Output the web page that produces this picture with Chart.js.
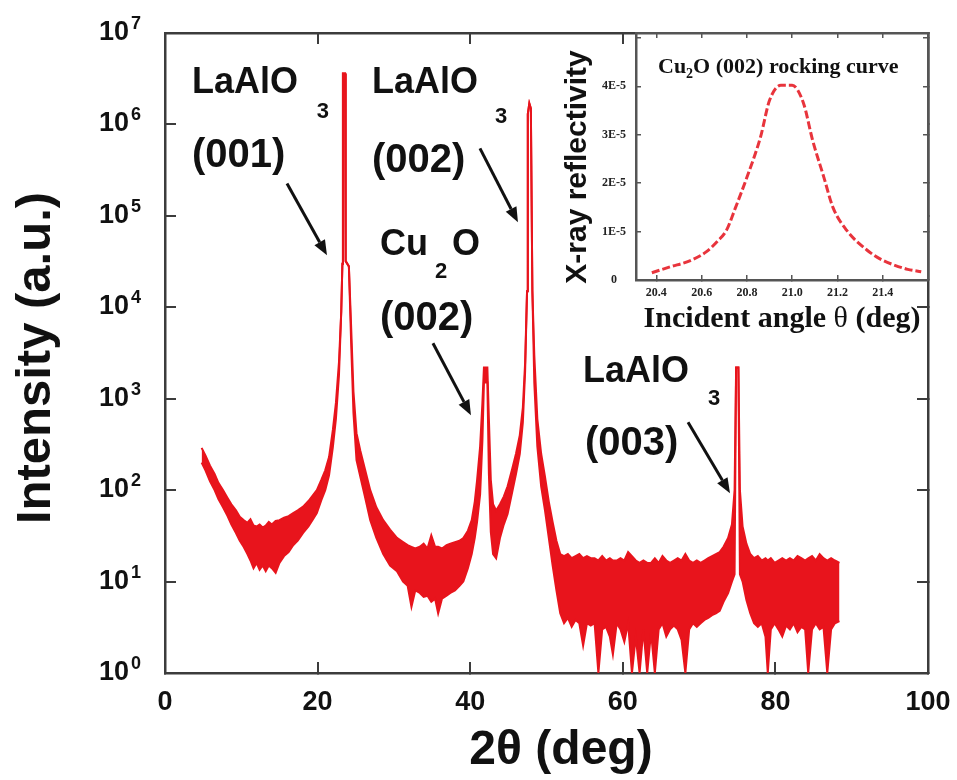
<!DOCTYPE html>
<html><head><meta charset="utf-8">
<script src="https://cdn.jsdelivr.net/npm/chart.js@4.4.1/dist/chart.umd.min.js"></script>
<style>
html,body{margin:0;padding:0;background:#fff;}
#wrap{position:relative;width:957px;height:780px;overflow:hidden;}
#main{position:absolute;left:0;top:0;}
#inset{position:absolute;left:550px;top:25px;}
</style></head><body>
<div id="wrap"><canvas id="main" width="957" height="780"></canvas><canvas id="inset" width="390" height="315"></canvas></div>
<script>
// ---------------- main XRD pattern (2theta scan) ----------------
const TWO_THETA = [4.8,5.3,5.9,6.5,7.0,7.6,8.2,8.7,9.3,9.8,10.3,10.8,11.2,11.6,12.0,12.4,12.8,13.2,13.6,14.0,14.5,15.0,15.6,16.2,16.8,17.4,18.1,18.8,19.4,19.9,20.5,21.0,21.5,22.0,22.4,22.8,23.1,23.25,23.32,23.6,23.68,24.1,24.4,24.7,25.1,25.6,26.2,26.9,27.7,28.6,29.5,30.4,31.2,31.8,32.3,32.8,33.4,33.9,34.4,34.9,35.4,35.8,36.3,36.9,37.4,38.0,38.6,39.1,39.7,40.2,40.6,40.9,41.3,41.6,41.8,42.25,42.45,42.7,43.0,43.4,43.9,44.4,44.9,45.5,46.0,46.5,46.9,47.2,47.45,47.55,47.75,47.95,48.15,48.4,48.8,49.3,49.8,50.3,50.8,51.3,51.8,52.3,52.8,53.3,53.8,54.3,54.8,55.3,55.8,56.3,56.8,57.3,57.8,58.3,58.7,59.2,59.7,60.2,60.7,61.2,61.7,62.2,62.7,63.2,63.7,64.2,64.7,65.2,65.7,66.2,66.7,67.2,67.7,68.2,68.7,69.2,69.7,70.2,70.7,71.2,71.7,72.2,72.7,73.2,73.8,74.3,74.65,74.85,75.15,75.35,75.7,76.2,76.7,77.2,77.7,78.2,78.7,79.0,79.4,79.9,80.4,80.9,81.4,81.9,82.4,82.9,83.4,83.9,84.3,84.8,85.3,85.8,86.3,86.8,87.3,87.8,88.4];
// upper edge of the noisy trace
const I_UPPER = [290,240,185,150,120,100,82,70,60,51,47,44,48,41,40,42,39,41,45,42,46,47,50,52,56,60,66,76,88,100,130,165,230,455,900,2500,9000,30000,3600000,3600000,32000,28000,6000,1200,420,270,170,100,65,47,37,30,27,25,24,23,24,26,23,32,24,24,23,25,26,27,28,30,36,47,75,128,300,900,2200,2200,600,130,70,60,70,85,110,170,250,400,800,2500,15000,1300000,1700000,1500000,15000,3000,600,250,140,75,45,28,20,19,20,18,19,20,18,19,18,18,17,19,17,18,17,17,18,17,21,19,17,16,17,16,16,18,16,19,17,16,17,18,17,20,17,16,17,16,17,18,19,20,21,24,30,42,100,2200,2200,100,40,26,20,18,19,17,18,17,18,16,17,18,17,18,17,19,18,17,18,19,17,20,18,17,18,17,16];
// lower edge of the noisy trace
const I_LOWER = [200,165,125,100,80,65,52,42,34,28,24,20,17,14,16,13.5,15,13,15,14,12.5,16,19,21,25,28,34,40,48,56,78,100,145,295,600,1800,9000,30000,3600000,3600000,32000,28000,4000,700,213,140,85,47,30,20,15,13,10,9,5.3,8,7.5,6.8,7,6,6.5,4.5,6.5,7,7.5,8,9,10,14,20,30,45,90,350,1500,1500,150,35,20,18,30,42,55,95,150,250,550,2000,15000,1300000,1700000,1500000,15000,1500,300,110,60,30,15,8,4.5,3.5,4,3.2,3.8,3.5,2,3.5,3.3,3.5,1,3,3.2,2.5,1.6,3.5,3,2.2,3.5,1,2.5,1,3,1,2.8,1,3,3.5,2.5,3,3.3,3,2.3,1,3,3.5,3.2,3.5,3.8,4,4.3,4.5,4.8,6,7.5,10,12,2200,2200,12,10,6.3,4.5,3.5,3.2,3.5,2.5,1,3,3.5,3,2.5,3.3,3,3.5,2.8,3.2,3,1,3,3.5,3,3.2,1,3,3.5,3.7];
const X_TICKS = [0,20,40,60,80,100];
const Y_TICKS = [1,10,100,1000,10000,100000,1000000,10000000];
const Y_TICK_BASE = '10';
const Y_TICK_EXP = ['0','1','2','3','4','5','6','7'];
const PEAK_LABELS = [
  {name:'LaAlO', sub:'3', hkl:'(001)'},
  {name:'LaAlO', sub:'3', hkl:'(002)'},
  {name:'Cu', sub:'2', tail:'O', hkl:'(002)'},
  {name:'LaAlO', sub:'3', hkl:'(003)'}
];
const X_TITLE = '2θ (deg)';
const Y_TITLE = 'Intensity (a.u.)';

// ---------------- inset: rocking curve ----------------
const INSET_THETA = [20.38,20.46,20.55,20.62,20.67,20.71,20.75,20.80,20.86,20.90,20.95,21.00,21.05,21.09,21.14,21.18,21.24,21.33,21.39,21.45,21.51,21.57];
const INSET_REFL = [0.15e-5,0.27e-5,0.40e-5,0.58e-5,0.80e-5,1.03e-5,1.50e-5,2.12e-5,2.95e-5,3.71e-5,4.02e-5,4.02e-5,3.65e-5,2.89e-5,2.12e-5,1.50e-5,1.03e-5,0.62e-5,0.43e-5,0.31e-5,0.22e-5,0.17e-5];
const INSET_X_TICKS = [20.4,20.6,20.8,21.0,21.2,21.4];
const INSET_Y_TICKS = [0,1e-5,2e-5,3e-5,4e-5,5e-5];
const INSET_Y_LABELS = ['0','1E-5','2E-5','3E-5','4E-5',''];
const INSET_TITLE = ['Cu','2','O (002) rocking curve'];
const INSET_X_TITLE = ['Incident angle ','θ',' (deg)'];
const INSET_Y_TITLE = 'X-ray reflectivity';

const RED = '#e8141c';
const AXIS = '#3c3c3c';
const SANS = '"Liberation Sans", Arial, Helvetica, sans-serif';
const SERIF = '"Liberation Serif", "Times New Roman", serif';

function arrow(ctx, x1, y1, x2, y2) {
  const ang = Math.atan2(y2 - y1, x2 - x1);
  const hl = 15, hw = 6;
  const bx = x2 - hl * Math.cos(ang), by = y2 - hl * Math.sin(ang);
  ctx.beginPath(); ctx.moveTo(x1, y1); ctx.lineTo(bx, by);
  ctx.lineWidth = 3; ctx.strokeStyle = '#111'; ctx.stroke();
  ctx.beginPath(); ctx.moveTo(x2, y2);
  ctx.lineTo(bx + hw * Math.sin(ang), by - hw * Math.cos(ang));
  ctx.lineTo(bx - hw * Math.sin(ang), by + hw * Math.cos(ang));
  ctx.closePath(); ctx.fillStyle = '#111'; ctx.fill();
}

const mainDecor = {
  id: 'mainDecor',
  afterDraw(chart) {
    const ctx = chart.ctx, xs = chart.scales.x, ys = chart.scales.y, ca = chart.chartArea;
    const P = (xv, lv) => [xs.getPixelForValue(xv), ys.getPixelForValue(Math.pow(10, lv))];
    ctx.save();
    ctx.fillStyle = '#111';
    // y tick labels 10^n
    Y_TICKS.forEach((v, i) => {
      const py = ys.getPixelForValue(v);
      ctx.font = 'bold 27px ' + SANS; ctx.textAlign = 'right'; ctx.textBaseline = 'alphabetic';
      ctx.fillText(Y_TICK_BASE, ca.left - 36, py + 7);
      ctx.font = 'bold 18px ' + SANS; ctx.textAlign = 'left';
      ctx.fillText(Y_TICK_EXP[i], ca.left - 34, py - 4);
    });
    // axis titles
    ctx.font = 'bold 48px ' + SANS; ctx.textAlign = 'center'; ctx.textBaseline = 'middle';
    ctx.fillText(X_TITLE, 561, ca.bottom + 78);
    ctx.font = 'bold 49px ' + SANS;
    ctx.save(); ctx.translate(36, 358); ctx.rotate(-Math.PI / 2);
    ctx.fillText(Y_TITLE, 0, 0); ctx.restore();
    // peak labels
    ctx.textAlign = 'left'; ctx.textBaseline = 'alphabetic';
    const big = 'bold 36px ' + SANS, sub = 'bold 22px ' + SANS, hkl = 'bold 40px ' + SANS;
    const put = (t, f, xv, lv) => { const p = P(xv, lv); ctx.font = f; ctx.fillText(t, p[0], p[1]); };
    // LaAlO3 (001)
    put(PEAK_LABELS[0].name, big, 3.54, 6.339);
    put(PEAK_LABELS[0].sub, sub, 19.9, 6.066);
    put(PEAK_LABELS[0].hkl, hkl, 3.54, 5.53);
    // LaAlO3 (002)
    put(PEAK_LABELS[1].name, big, 27.13, 6.339);
    put(PEAK_LABELS[1].sub, sub, 43.25, 6.011);
    put(PEAK_LABELS[1].hkl, hkl, 27.13, 5.475);
    // Cu2O (002)
    put(PEAK_LABELS[2].name, big, 28.18, 4.568);
    put(PEAK_LABELS[2].sub, sub, 35.39, 4.317);
    put(PEAK_LABELS[2].tail, big, 37.61, 4.568);
    put(PEAK_LABELS[2].hkl, hkl, 28.18, 3.749);
    // LaAlO3 (003)
    put(PEAK_LABELS[3].name, big, 54.78, 3.18);
    put(PEAK_LABELS[3].sub, sub, 71.17, 2.929);
    put(PEAK_LABELS[3].hkl, hkl, 55.05, 2.383);
    // arrows
    const arr = (a, b, c, d) => { const p = P(a, b), q = P(c, d); arrow(ctx, p[0], p[1], q[0], q[1]); };
    arr(15.99, 5.355, 21.23, 4.568);
    arr(41.28, 5.738, 46.26, 4.929);
    arr(35.12, 3.607, 40.10, 2.82);
    arr(68.55, 2.743, 74.05, 1.967);
    ctx.restore();
  }
};

const gridIn = (len) => ({ display: true, drawOnChartArea: false, drawTicks: true, tickLength: -len, color: AXIS, lineWidth: 2 });
const border = { display: true, color: AXIS, width: 2.5 };
const fitH = h => s => { s.height = h; s.paddingLeft = 0; s.paddingRight = 0; };
const fitW = w => s => { s.width = w; s.paddingTop = 0; s.paddingBottom = 0; };

new Chart(document.getElementById('main'), {
  type: 'line',
  data: {
    datasets: [
      { data: TWO_THETA.map((x, i) => ({ x, y: I_UPPER[i] })), borderColor: RED, borderWidth: 2, pointRadius: 0, fill: false, tension: 0 },
      { data: TWO_THETA.map((x, i) => ({ x, y: I_LOWER[i] })), borderColor: RED, backgroundColor: RED, borderWidth: 2, pointRadius: 0, fill: '-1', tension: 0 }
    ]
  },
  options: {
    responsive: false, animation: false, events: [],
    layout: { padding: { top: 33, right: 29, left: 0, bottom: 0 } },
    plugins: { legend: { display: false }, tooltip: { enabled: false } },
    scales: {
      x: { type: 'linear', position: 'bottom', min: 0, max: 100,
        afterBuildTicks: s => { s.ticks = X_TICKS.map(v => ({ value: v })); },
        afterFit: fitH(107),
        ticks: { color: '#111', font: { family: SANS, size: 27, weight: 'bold' }, padding: 24, maxRotation: 0 },
        grid: gridIn(11), border },
      x2: { type: 'linear', position: 'top', min: 0, max: 100,
        afterBuildTicks: s => { s.ticks = X_TICKS.map(v => ({ value: v })); },
        afterFit: fitH(0),
        ticks: { display: false }, grid: gridIn(11), border },
      y: { type: 'logarithmic', position: 'left', min: 1, max: 1e7,
        afterBuildTicks: s => { s.ticks = Y_TICKS.map(v => ({ value: v })); },
        afterFit: fitW(165),
        ticks: { display: false }, grid: gridIn(11), border },
      y2: { type: 'logarithmic', position: 'right', min: 1, max: 1e7,
        afterBuildTicks: s => { s.ticks = Y_TICKS.map(v => ({ value: v })); },
        afterFit: fitW(0),
        ticks: { display: false }, grid: gridIn(11), border }
    }
  },
  plugins: [mainDecor]
});

// ---------------- inset chart ----------------
const insetDecor = {
  id: 'insetDecor',
  beforeDraw(chart) {
    const ctx = chart.ctx, ca = chart.chartArea;
    ctx.save(); ctx.fillStyle = '#fff';
    ctx.fillRect(ca.left, ca.top, ca.right - ca.left, ca.bottom - ca.top);
    ctx.restore();
  },
  afterDraw(chart) {
    const ctx = chart.ctx, ca = chart.chartArea;
    ctx.save(); ctx.fillStyle = '#111'; ctx.textBaseline = 'alphabetic'; ctx.textAlign = 'left';
    // title inside
    let x = ca.left + 22; const by = ca.top + 40;
    ctx.font = 'bold 22px ' + SERIF; ctx.fillText(INSET_TITLE[0], x, by); x += ctx.measureText(INSET_TITLE[0]).width;
    ctx.font = 'bold 14px ' + SERIF; ctx.fillText(INSET_TITLE[1], x, by + 5); x += ctx.measureText(INSET_TITLE[1]).width;
    ctx.font = 'bold 22px ' + SERIF; ctx.fillText(INSET_TITLE[2], x, by);
    // x title
    const f = ['bold 30px ' + SERIF, '30px ' + SERIF, 'bold 30px ' + SERIF];
    let w = 0; INSET_X_TITLE.forEach((t, i) => { ctx.font = f[i]; w += ctx.measureText(t).width; });
    x = 232 - w / 2; const ty = 302;
    INSET_X_TITLE.forEach((t, i) => { ctx.font = f[i]; ctx.fillText(t, x, ty); x += ctx.measureText(t).width; });
    // y title
    ctx.font = 'bold 30px ' + SANS; ctx.textAlign = 'center'; ctx.textBaseline = 'middle';
    ctx.save(); ctx.translate(28, 142); ctx.rotate(-Math.PI / 2); ctx.fillText(INSET_Y_TITLE, 0, 0); ctx.restore();
    ctx.restore();
  }
};
const gridInset = { display: true, drawOnChartArea: false, drawTicks: true, tickLength: -5, color: '#555', lineWidth: 1.5 };
const borderInset = { display: true, color: '#555', width: 2.5 };
new Chart(document.getElementById('inset'), {
  type: 'line',
  data: { datasets: [{ data: INSET_THETA.map((x, i) => ({ x, y: INSET_REFL[i] })), borderColor: '#e8343c', borderWidth: 3, borderDash: [8, 3], pointRadius: 0, fill: false, cubicInterpolationMode: 'monotone' }] },
  options: {
    responsive: false, animation: false, events: [],
    layout: { padding: { top: 8, right: 12, left: 0, bottom: 0 } },
    plugins: { legend: { display: false }, tooltip: { enabled: false } },
    scales: {
      x: { type: 'linear', position: 'bottom', min: 20.31, max: 21.6,
        afterBuildTicks: s => { s.ticks = INSET_X_TICKS.map(v => ({ value: v })); },
        afterFit: fitH(60),
        ticks: { color: '#222', font: { family: SERIF, size: 12, weight: 'bold' }, padding: 11, maxRotation: 0, callback: v => v.toFixed(1) },
        grid: gridInset, border: borderInset },
      x2: { type: 'linear', position: 'top', min: 20.31, max: 21.6,
        afterBuildTicks: s => { s.ticks = INSET_X_TICKS.map(v => ({ value: v })); },
        afterFit: fitH(0), ticks: { display: false }, grid: gridInset, border: borderInset },
      y: { type: 'linear', position: 'left', min: 0, max: 5.1e-5,
        afterBuildTicks: s => { s.ticks = INSET_Y_TICKS.map(v => ({ value: v })); },
        afterFit: fitW(86),
        ticks: { color: '#222', font: { family: SERIF, size: 12, weight: 'bold' }, padding: 15, crossAlign: 'center',
          callback: (v, i) => INSET_Y_LABELS[i] },
        grid: gridInset, border: borderInset },
      y2: { type: 'linear', position: 'right', min: 0, max: 5.1e-5,
        afterBuildTicks: s => { s.ticks = INSET_Y_TICKS.map(v => ({ value: v })); },
        afterFit: fitW(0), ticks: { display: false }, grid: gridInset, border: borderInset }
    }
  },
  plugins: [insetDecor]
});
</script>
</body></html>
